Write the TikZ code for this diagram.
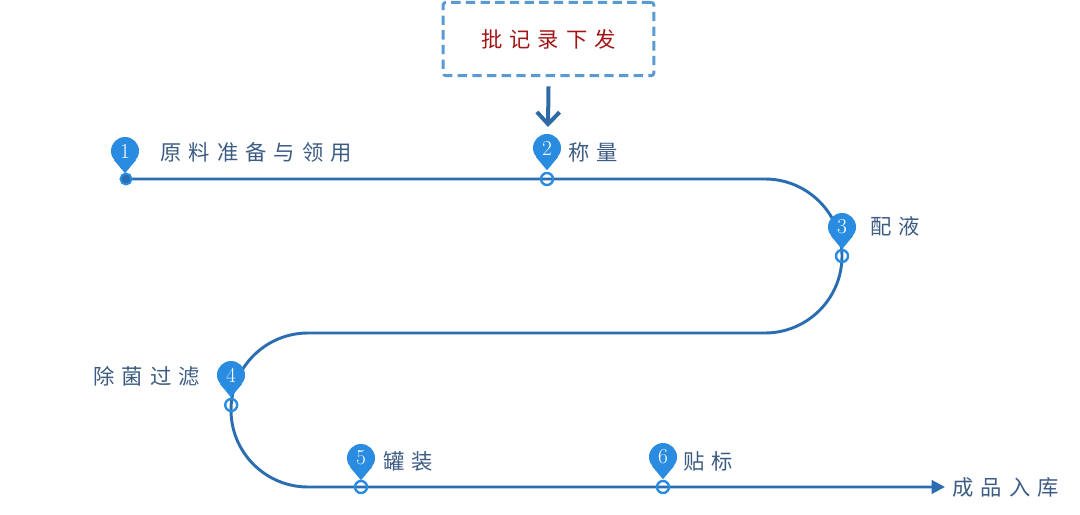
\documentclass[tikz,border=0pt]{standalone}
\usepackage{fontspec}
\newfontfamily\cjk[LetterSpace=33]{Noto Sans CJK SC}
\usetikzlibrary{arrows.meta}
\definecolor{lineblue}{HTML}{2A6DB0}
\definecolor{pinblue}{HTML}{2A8CE0}
\definecolor{boxblue}{HTML}{5A9AD2}
\definecolor{arrowblue}{HTML}{2E6AA6}
\definecolor{textblue}{HTML}{3D5C84}
\definecolor{textred}{HTML}{A31515}
\begin{document}
\begin{tikzpicture}[x=0.75pt,y=0.75pt,
		stepline/.style={lineblue,line width=2.2pt},
		ball/.style={circle,fill=pinblue,inner sep=0pt,minimum size=21pt,text=white,font=\fontsize{16}{16}\selectfont},
		ring/.style={pinblue,line width=1.8pt},
		steptext/.style={text=textblue,font=\cjk\fontsize{16}{17}\selectfont,anchor=west,inner sep=0pt}]
			\useasboundingbox (0,0) rectangle (1080,514);

			% Batch record box and arrow
			\node[draw=boxblue,dashed,dash pattern=on 7pt off 4pt,line width=2.2pt,rounded corners=2pt,
				minimum width=158pt,minimum height=55pt,text=textred,font=\cjk\fontsize{16}{17}\selectfont] (box) at (548.5,475) {批记录下发};
			\coordinate (a2) at (548,387);
			\draw[arrowblue,line width=3pt,-{Straight Barb[length=9pt,width=17pt]}] ([yshift=-7pt]box.south) -- (a2);

			% Process line
			\coordinate (m1) at (126,335);
			\coordinate (m2) at (547,335);
			\coordinate (m3) at (842,258);
			\coordinate (m4) at (231.2,109);
			\coordinate (m5) at (361,27);
			\coordinate (m6) at (663,27);
			\coordinate (c1) at (765,335);
			\coordinate (c2) at (308,181);
			\coordinate (end) at (945,27);
			\draw[stepline,-{Triangle[length=10pt,width=10pt]}] (m1) -- (c1) arc[start angle=90,end angle=-90,radius=77]
				-- (c2) arc[start angle=90,end angle=270,radius=77] -- (end);

			% Markers
			\filldraw[fill=lineblue,draw=pinblue,line width=1.5pt] (m1) circle (5.5);
			\foreach \m in {m2,m3,m4,m5,m6}
				\draw[ring] (\m) circle (6);

			% Pins
			\node[ball] (b1) at (125,363) {1};
			\node[ball] (b2) at (547,366) {2};
			\node[ball] (b3) at (842,287) {3};
			\node[ball] (b4) at (231,139) {4};
			\node[ball] (b5) at (361,56) {5};
			\node[ball] (b6) at (663,57) {6};
			\foreach \i in {1,...,6}
				\fill[pinblue] (b\i.-140) -- (b\i.-40) -- ([yshift=-6pt]b\i.south) -- cycle;

			% Step labels
			\node[steptext] (t1) at (160,362) {原料准备与领用};
			\node[steptext] (t2) at (568,362) {称量};
			\node[steptext] (t3) at (870,288) {配液};
			\node[steptext] (t4) at (93,138) {除菌过滤};
			\node[steptext] (t5) at (383,53) {罐装};
			\node[steptext] (t6) at (683,53) {贴标};
			\node[steptext] (t7) at (952,27) {成品入库};
		\end{tikzpicture}
\end{document}
